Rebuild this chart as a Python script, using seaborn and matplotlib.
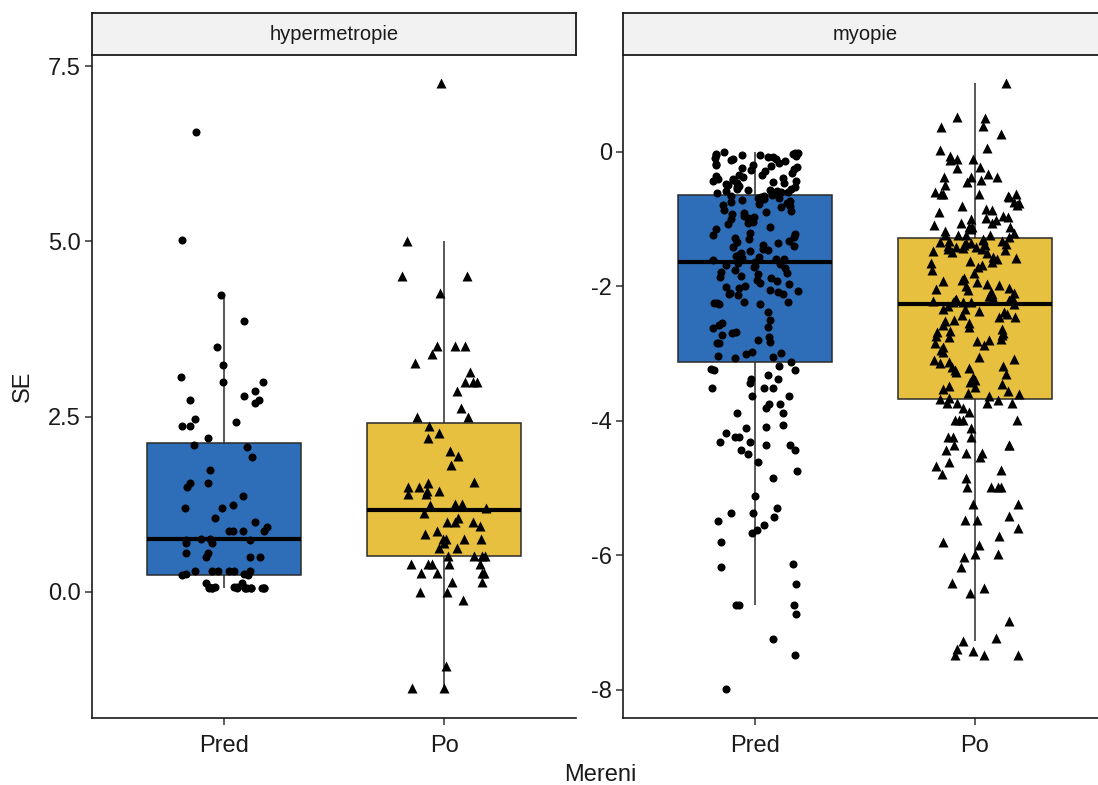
import numpy as np
import pandas as pd
import matplotlib
matplotlib.use("Agg")
import matplotlib.pyplot as plt
import seaborn as sns

# hodnoty (SE, dioptrie)
mereni = ["Pred", "Po"]
skupiny = ["hypermetropie", "myopie"]
barvy = {"Pred": "#2E6EB8", "Po": "#E7C040"}

hyper_pred = [6.56, 5.02, 4.24, 3.87, 3.5, 3.24, 3.06, 2.99, 2.99, 2.86, 2.8, 2.74, 2.74,
              2.69, 2.47, 2.43, 2.37, 2.37, 2.2, 2.1, 2.06, 1.93, 1.74, 1.56, 1.56, 1.5,
              1.37, 1.24, 1.19, 1.19, 1.06, 0.99, 0.87, 0.87, 0.87, 0.87, 0.93, 0.76, 0.76,
              0.74, 0.74, 0.69, 0.69, 0.56, 0.56, 0.5, 0.5, 0.5, 0.3, 0.3, 0.3, 0.3, 0.3,
              0.3, 0.25, 0.25, 0.24, 0.24, 0.13, 0.13, 0.06, 0.05, 0.07, 0.06, 0.05, 0.06,
              0.07, 0.06, 0.05, 0.06, 0.07, 0.06, 0.05, 0.06, 0.07, 0.06]
hyper_po = [7.26, 5.0, 4.5, 4.5, 4.26, 3.51, 3.51, 3.51, 3.39, 3.26, 3.13, 3.0, 3.0, 3.0,
            2.87, 2.63, 2.5, 2.5, 2.37, 2.27, 2.19, 2.01, 1.94, 1.81, 1.56, 1.5, 1.57, 1.44,
            1.44, 1.39, 1.39, 1.5, 1.24, 1.26, 1.2, 1.26, 1.13, 1.06, 1.0, 1.0, 1.0, 0.94,
            0.87, 0.83, 0.76, 0.76, 0.76, 0.76, 0.69, 0.63, 0.63, 0.51, 0.51, 0.51, 0.51,
            0.4, 0.4, 0.4, 0.4, 0.4, 0.27, 0.27, 0.27, 0.27, 0.14, 0.14, 0.0, 0.0, -0.11,
            -1.06, -1.37, -1.37]
myo_pred = [-0.01, -0.03, -0.02, -0.06, -0.04, -0.09, -0.05, -0.11, -0.07, -0.03, -0.12,
            -0.08, -0.05, -0.14, -0.02, -0.1, -0.18, -0.22, -0.16, -0.27, -0.2, -0.31,
            -0.24, -0.19, -0.29, -0.34, -0.21, -0.26, -0.38, -0.42, -0.36, -0.47, -0.4,
            -0.52, -0.45, -0.56, -0.39, -0.5, -0.58, -0.44, -0.55, -0.6, -0.48, -0.53,
            -0.57, -0.41, -0.59, -0.6, -0.51, -0.46, -0.43, -0.57, -0.61, -0.35,
            -0.64, -0.67, -0.7, -0.66, -0.73, -0.69, -0.76, -0.71, -0.79, -0.65, -0.82,
            -0.74, -0.68, -0.8, -0.77, -0.86, -0.9, -0.95, -0.88, -1.0, -0.93, -1.04,
            -0.97, -1.08, -0.91, -1.12, -1.02, -1.15, -0.99, -1.06, -1.2, -1.24, -1.28,
            -1.22, -1.32, -1.26, -1.36, -1.3, -1.4, -1.34, -1.44, -1.38, -1.48, -1.42,
            -1.52, -1.46, -1.55, -1.5, -1.58, -1.54, -1.6, -1.57, -1.61, -1.59,
            -1.64, -1.67, -1.7, -1.66, -1.73, -1.69, -1.76, -1.72, -1.8, -1.78, -1.84,
            -1.82, -1.88, -1.86, -1.92, -1.95, -1.9, -1.99, -2.03, -1.97, -2.07, -2.01,
            -2.1, -2.05, -2.08, -2.11, -2.13, -2.12, -2.25, -2.24, -2.26, -2.23, -2.25,
            -2.27, -2.38, -2.5, -2.55, -2.57, -2.62, -2.6, -2.68, -2.7, -2.75, -2.73,
            -2.8, -2.84, -2.85, -2.83, -2.99, -2.98, -3.0, -3.05, -3.04, -3.07,
            -3.12, -3.24, -3.24, -3.23, -3.18, -3.38, -3.38, -3.32, -3.44, -3.51, -3.51,
            -3.51, -3.63, -3.63, -3.75, -3.75, -3.81, -3.88, -3.88, -4.1, -4.09, -4.06,
            -4.24, -4.18, -4.24, -4.31, -4.31, -4.36, -4.36, -4.43, -4.43, -4.49, -4.61,
            -4.74, -4.85, -5.12, -5.29, -5.37, -5.43, -5.37, -5.49, -5.55, -5.62, -5.67,
            -5.8, -6.13, -6.17, -6.43, -6.74, -6.74, -6.74, -6.87, -7.24, -7.48, -7.99]
myo_po = [1.03, 0.51, 0.52, 0.39, 0.37, 0.27, 0.06, 0.03, -0.06, -0.1, -0.1, -0.1, -0.24,
          -0.22, -0.37, -0.37, -0.37, -0.45, -0.42, -0.49, -0.67, -0.62, -0.62, -0.62,
          -0.62, -0.86, -0.79, -0.76, -0.8, -0.85, -0.74, -0.98, -0.97, -1.06, -1.09,
          -1.06, -1.12, -1.12, -1.12, -1.23, -1.23, -1.23, -1.23, -1.26, -0.6, -0.65,
          -0.9, -0.95, -1.0, -1.02, -1.15, -1.18, -1.2, -0.33, -0.12,
          -1.3, -1.33, -1.35, -1.31, -1.38, -1.34, -1.4, -1.36, -1.42, -1.37, -1.44,
          -1.32, -1.39, -1.45, -1.41, -1.47, -1.43, -1.5, -1.46, -1.49, -1.56, -1.6,
          -1.64, -1.58, -1.68, -1.62, -1.72, -1.66, -1.76, -1.8, -1.88, -1.92, -1.9,
          -1.96, -1.94, -2.0, -1.98, -2.04, -2.02, -2.08, -2.06, -2.12, -2.1, -2.15,
          -2.14, -2.18, -2.16, -2.2, -2.19, -2.22, -2.21, -2.23, -2.24, -2.24,
          -2.26, -2.3, -2.34, -2.38, -2.33, -2.42, -2.37, -2.46, -2.41, -2.5, -2.45,
          -2.55, -2.58, -2.52, -2.6, -2.64, -2.68, -2.66, -2.72, -2.7, -2.76, -2.74,
          -2.8, -2.78, -2.85, -2.82, -2.9, -2.88, -2.95, -2.98, -3.05, -3.08, -3.1,
          -3.14, -3.12, -3.18, -3.2, -3.25, -3.22, -3.3, -3.28, -3.35, -3.38, -3.4,
          -3.43, -3.45, -3.48, -3.5, -3.53, -3.56, -3.58, -3.6, -3.63, -3.66,
          -3.73, -3.73, -3.73, -3.69, -3.67, -3.73, -3.87, -3.81, -3.99, -3.99, -3.99,
          -3.99, -4.1, -4.24, -4.24, -4.24, -4.36, -4.36, -4.36, -4.43, -4.48, -4.48,
          -4.54, -4.61, -4.67, -4.73, -4.79, -4.85, -4.98, -4.98, -4.98, -4.98, -5.23,
          -5.23, -5.41, -5.47, -5.47, -5.59, -5.72, -5.8, -5.84, -6.02, -5.98, -5.98,
          -6.17, -6.48, -6.41, -6.56, -6.97, -7.23, -7.27, -7.48, -7.48, -7.43, -7.49,
          -7.4]

hodnoty = {("hypermetropie", "Pred"): hyper_pred, ("hypermetropie", "Po"): hyper_po,
           ("myopie", "Pred"): myo_pred, ("myopie", "Po"): myo_po}
rows = []
for (sk, m), vals in hodnoty.items():
    for v in vals:
        rows.append({"Skupina": sk, "Mereni": m, "SE": v})
df = pd.DataFrame(rows)

sns.set_style("ticks")
plt.rcParams["font.family"] = ["Liberation Sans", "DejaVu Sans"]
np.random.seed(11)

W, H = 1098, 785
fig = plt.figure(figsize=(W / 100, H / 100), dpi=100)

panely = {"hypermetropie": dict(x0=92, ylim=(-1.8, 7.66), ticks=[0, 2.5, 5, 7.5],
                                labels=["0.0", "2.5", "5.0", "7.5"]),
          "myopie": dict(x0=623, ylim=(-8.42, 1.44), ticks=[-8, -6, -4, -2, 0],
                         labels=["-8", "-6", "-4", "-2", "0"])}
top, bottom, width, strip_h = 55, 718, 484, 42
txt = "#1a1a1a"

for sk in skupiny:
    p = panely[sk]
    ax = fig.add_axes([p["x0"] / W, (H - bottom) / H, width / W, (bottom - top) / H])
    d = df[df.Skupina == sk]
    sns.boxplot(data=d, x="Mereni", y="SE", hue="Mereni", order=mereni, hue_order=mereni,
                palette=barvy, saturation=1, width=0.7, showfliers=False,
                linecolor="#2b2b2b", linewidth=1.1, legend=False, ax=ax,
                medianprops={"linewidth": 3, "color": "black"},
                capprops={"visible": False})
    for m, mk, sz in [("Pred", "o", 5.8), ("Po", "^", 7.2)]:
        sns.stripplot(data=d[d.Mereni == m], x="Mereni", y="SE", order=mereni,
                      color="black", marker=mk, size=sz, linewidth=0, jitter=0.2, ax=ax,
                      zorder=3)
    ax.set_xlim(-0.6, 1.6)
    ax.set_ylim(*p["ylim"])
    ax.set_yticks(p["ticks"])
    ax.set_yticklabels(p["labels"])
    ax.set_xlabel("")
    ax.set_ylabel("SE" if sk == "hypermetropie" else "", fontsize=17, color=txt, labelpad=10)
    ax.tick_params(axis="both", labelsize=17, length=5, width=1.1, color="#333333",
                   labelcolor=txt, pad=3)
    ax.tick_params(axis="x", pad=7)
    sns.despine(ax=ax)
    for s in ["left", "bottom"]:
        ax.spines[s].set_linewidth(1.2)
        ax.spines[s].set_color("#1a1a1a")

    sax = fig.add_axes([p["x0"] / W, (H - top) / H, width / W, strip_h / H])
    sax.set_facecolor("#F2F2F2")
    sax.set_xticks([])
    sax.set_yticks([])
    for s in sax.spines.values():
        s.set_linewidth(1.3)
        s.set_color("#1a1a1a")
    sax.text(0.5, 0.5, sk, ha="center", va="center", fontsize=14.5, color=txt,
             transform=sax.transAxes)

fig.text(600 / W, 1 - 775 / H, "Mereni", ha="center", va="center", fontsize=17, color=txt)
fig.savefig("out.png", dpi=100)
